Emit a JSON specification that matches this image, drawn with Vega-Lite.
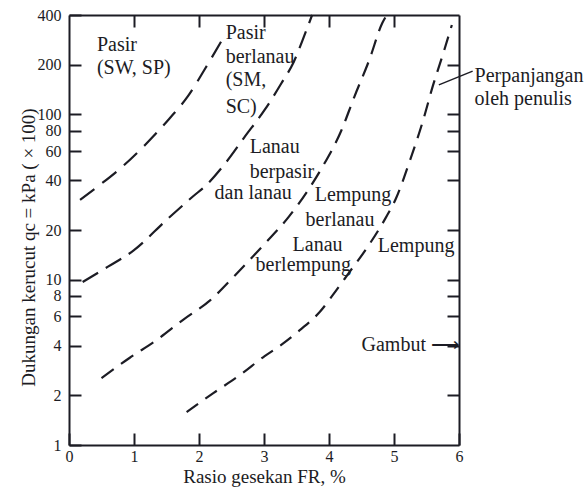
{
  "$schema": "https://vega.github.io/schema/vega-lite/v6.json",
  "width": 390,
  "height": 430,
  "autosize": "none",
  "padding": {"left": 69, "top": 15, "right": 126, "bottom": 43},
  "background": "white",
  "config": {
    "view": {"stroke": null},
    "font": "Liberation Serif",
    "axis": {
      "grid": false,
      "domainColor": "#1c1c24",
      "domainWidth": 2,
      "tickColor": "#1c1c24",
      "tickWidth": 2,
      "labelFont": "Liberation Serif",
      "labelFontSize": 16,
      "labelColor": "#1c1c24",
      "labelOverlap": false,
      "labelFlush": false,
      "titleFont": "Liberation Serif",
      "titleFontSize": 19,
      "titleFontWeight": "normal",
      "titleColor": "#1c1c24"
    }
  },
  "datasets": {
    "curves": [
      {"curve": "A", "x": 0.17, "y": 30.4},
      {"curve": "A", "x": 0.37, "y": 34.9},
      {"curve": "A", "x": 0.78, "y": 46.8},
      {"curve": "A", "x": 1.17, "y": 65.4},
      {"curve": "A", "x": 1.54, "y": 94},
      {"curve": "A", "x": 1.83, "y": 129},
      {"curve": "A", "x": 2.1, "y": 191},
      {"curve": "A", "x": 2.36, "y": 285},
      {"curve": "B", "x": 0.21, "y": 9.7},
      {"curve": "B", "x": 0.6, "y": 12},
      {"curve": "B", "x": 1.0, "y": 15.1},
      {"curve": "B", "x": 1.5, "y": 23},
      {"curve": "B", "x": 1.91, "y": 32},
      {"curve": "B", "x": 2.1, "y": 37},
      {"curve": "B", "x": 2.41, "y": 51},
      {"curve": "B", "x": 2.7, "y": 73},
      {"curve": "B", "x": 3.02, "y": 108},
      {"curve": "B", "x": 3.27, "y": 155},
      {"curve": "B", "x": 3.45, "y": 205},
      {"curve": "B", "x": 3.62, "y": 300},
      {"curve": "B", "x": 3.74, "y": 400},
      {"curve": "C", "x": 0.5, "y": 2.54},
      {"curve": "C", "x": 0.93, "y": 3.36},
      {"curve": "C", "x": 1.35, "y": 4.32},
      {"curve": "C", "x": 1.75, "y": 5.7},
      {"curve": "C", "x": 2.17, "y": 7.5},
      {"curve": "C", "x": 2.56, "y": 10.7},
      {"curve": "C", "x": 3.01, "y": 16.5},
      {"curve": "C", "x": 3.38, "y": 24},
      {"curve": "C", "x": 3.66, "y": 34},
      {"curve": "C", "x": 3.89, "y": 47.5},
      {"curve": "C", "x": 4.19, "y": 80},
      {"curve": "C", "x": 4.39, "y": 128},
      {"curve": "C", "x": 4.62, "y": 214},
      {"curve": "C", "x": 4.82, "y": 358},
      {"curve": "C", "x": 4.88, "y": 395},
      {"curve": "D", "x": 1.81, "y": 1.58},
      {"curve": "D", "x": 2.22, "y": 2.06},
      {"curve": "D", "x": 2.63, "y": 2.65},
      {"curve": "D", "x": 3.01, "y": 3.45},
      {"curve": "D", "x": 3.27, "y": 4.05},
      {"curve": "D", "x": 3.55, "y": 4.95},
      {"curve": "D", "x": 3.86, "y": 6.4},
      {"curve": "D", "x": 4.1, "y": 8.5},
      {"curve": "D", "x": 4.32, "y": 11.2},
      {"curve": "D", "x": 4.56, "y": 15.1},
      {"curve": "D", "x": 4.87, "y": 23.6},
      {"curve": "D", "x": 5.03, "y": 31},
      {"curve": "D", "x": 5.24, "y": 52},
      {"curve": "D", "x": 5.44, "y": 90},
      {"curve": "D", "x": 5.6, "y": 150},
      {"curve": "D", "x": 5.76, "y": 236},
      {"curve": "D", "x": 5.89, "y": 348}
    ],
    "labels": [
      {"x": 0.43, "y": 263, "text": "Pasir"},
      {"x": 0.43, "y": 191, "text": "(SW, SP)"},
      {"x": 2.41, "y": 311, "text": "Pasir"},
      {"x": 2.41, "y": 223, "text": "berlanau"},
      {"x": 2.41, "y": 162, "text": "(SM,"},
      {"x": 2.41, "y": 111, "text": "SC)"},
      {"x": 2.78, "y": 63.6, "text": "Lanau"},
      {"x": 2.78, "y": 44.9, "text": "berpasir"},
      {"x": 2.24, "y": 33.5, "text": "dan lanau"},
      {"x": 3.78, "y": 32.6, "text": "Lempung"},
      {"x": 3.64, "y": 23, "text": "berlanau"},
      {"x": 3.44, "y": 16.2, "text": "Lanau"},
      {"x": 2.87, "y": 12.3, "text": "berlempung"},
      {"x": 4.75, "y": 16.0, "text": "Lempung"},
      {"x": 4.5, "y": 4.03, "text": "Gambut ⟶"},
      {"x": 6.24, "y": 171, "text": "Perpanjangan"},
      {"x": 6.24, "y": 124, "text": "oleh penulis"}
    ],
    "leader": [
      {"x": 6.21, "y": 183, "x2": 5.69, "y2": 151}
    ]
  },
  "layer": [
    {
      "data": {"name": "curves"},
      "mark": {"type": "line", "color": "#1c1c24", "strokeWidth": 2.2, "interpolate": "monotone"},
      "encoding": {
        "x": {
          "field": "x", "type": "quantitative",
          "scale": {"domain": [0, 6], "nice": false, "zero": false},
          "axis": {
            "orient": "bottom",
            "values": [0, 1, 2, 3, 4, 5, 6],
            "tickSize": -12,
            "labelPadding": 15,
            "title": "Rasio gesekan FR, %",
            "titleX": 195,
            "titleY": 31,
            "titleBaseline": "middle"
          }
        },
        "y": {
          "field": "y", "type": "quantitative",
          "scale": {"type": "log", "domain": [1, 400], "nice": false},
          "axis": {
            "orient": "left",
            "values": [1, 2, 4, 6, 8, 10, 20, 40, 60, 80, 100, 200, 400],
            "tickSize": -12,
            "labelPadding": 20,
            "format": "d",
            "title": "Dukungan kerucut qc = kPa ( × 100)",
            "titleX": -41,
            "titleY": 232,
            "titleBaseline": "middle"
          }
        },
        "detail": {"field": "curve", "type": "nominal"},
        "strokeDash": {
          "field": "curve", "type": "nominal",
          "scale": {"domain": ["A", "B", "C", "D"], "range": [[18, 10], [18, 9], [15, 9], [14, 9]]},
          "legend": null
        }
      }
    },
    {
      "data": {"name": "labels"},
      "mark": {"type": "text", "align": "left", "baseline": "middle", "fontSize": 20, "font": "Liberation Serif", "color": "#1c1c24"},
      "encoding": {
        "x": {
          "field": "x", "type": "quantitative",
          "scale": {"domain": [0, 6], "nice": false, "zero": false},
          "axis": {"orient": "top", "values": [1, 2, 3, 4, 5], "tickSize": -12, "labels": false, "title": null}
        },
        "y": {
          "field": "y", "type": "quantitative",
          "scale": {"type": "log", "domain": [1, 400], "nice": false},
          "axis": {"orient": "right", "values": [2, 4, 6, 8, 10, 20, 40, 60, 80, 100, 200], "tickSize": -12, "labels": false, "title": null}
        },
        "text": {"field": "text", "type": "nominal"}
      }
    },
    {
      "data": {"name": "leader"},
      "mark": {"type": "rule", "color": "#1c1c24", "strokeWidth": 1.5},
      "encoding": {
        "x": {"field": "x", "type": "quantitative", "scale": {"domain": [0, 6], "nice": false, "zero": false}, "axis": null},
        "y": {"field": "y", "type": "quantitative", "scale": {"type": "log", "domain": [1, 400], "nice": false}, "axis": null},
        "x2": {"field": "x2"},
        "y2": {"field": "y2"}
      }
    }
  ],
  "resolve": {"axis": {"x": "independent", "y": "independent"}}
}
